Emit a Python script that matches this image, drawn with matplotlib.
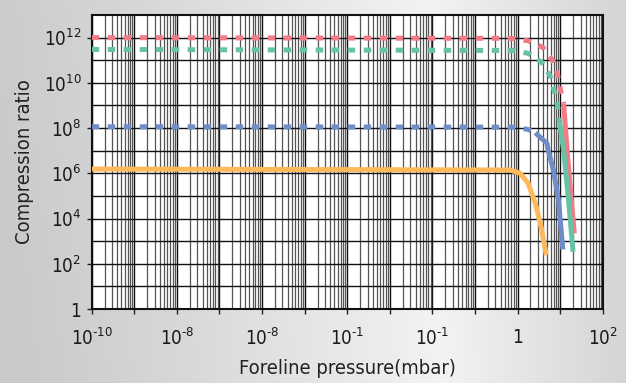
import numpy as np
import matplotlib
matplotlib.use("Agg")
import matplotlib.pyplot as plt
from matplotlib.ticker import FixedLocator, FixedFormatter, LogLocator, NullFormatter
from matplotlib.colors import LinearSegmentedColormap

plt.rcParams['font.family'] = ['DejaVu Sans']
plt.rcParams['font.stretch'] = 'condensed'
plt.rcParams['mathtext.fontset'] = 'custom'
plt.rcParams['mathtext.rm'] = 'DejaVu Sans:stretch=condensed'
plt.rcParams['mathtext.it'] = 'DejaVu Sans:stretch=condensed'

# data (pressure in mbar, compression ratio)
# each gas: dashed part (extrapolated) + solid part
red_dash_p = [1e-10, 0.78, 1.78, 3.9, 6.6, 8.7, 10.2, 12.0]
red_dash_cr = [1e12, 9.3e11, 7.2e11, 3.7e11, 1.0e11, 2.2e10, 4.8e9, 1.23e9]
red_solid_p = [12.0, 14.5, 17.5, 21.4]
red_solid_cr = [1.23e9, 1.07e7, 1.5e5, 2.2e3]

green_dash_p = [1e-10, 0.78, 1.78, 3.7, 5.8, 7.2, 8.7, 9.5]
green_dash_cr = [3.0e11, 2.7e11, 2.0e11, 8.1e10, 2.0e10, 4.5e9, 9.3e8, 2.2e8]
green_solid_p = [9.5, 12.0, 15.5, 20.0]
green_solid_cr = [2.2e8, 1.07e7, 8.0e4, 3.4e2]

blue_dash_p = [1e-10, 0.78, 1.78, 2.6]
blue_dash_cr = [1.15e8, 1.1e8, 8.7e7, 6.2e7]
blue_solid_p = [2.6, 4.9, 5.2, 6.9, 9.1, 11.5]
blue_solid_cr = [6.2e7, 2.1e7, 1.07e7, 1.4e6, 6.5e4, 4.3e2]

orange_p = [1e-10, 0.66, 1.15, 1.78, 2.6, 3.55, 4.7]
orange_cr = [1.55e6, 1.4e6, 1.0e6, 3.5e5, 4.7e4, 4.3e3, 2.4e2]

x_ticks = 10.0 ** np.arange(-10, 3)
x_tick_labels = ['$10^{\u201010}$', '', '$10^{\u20108}$', '', '$10^{\u20108}$', '', '$10^{\u20101}$', '',
                 '$10^{\u20101}$', '', '1', '', '$10^{2}$']
y_ticks = 10.0 ** np.arange(0, 14, 2)
y_tick_labels = ['1', '$10^{2}$', '$10^{4}$', '$10^{6}$', '$10^{8}$', '$10^{10}$', '$10^{12}$']

red = '#EF7C87'
green = '#68C2A4'
blue = '#6F8DC9'
orange = '#FDB95A'

fig = plt.figure(figsize=(6.26, 3.83), dpi=100)

# grey gradient background, a bit darker towards the bottom left
bg = fig.add_axes([0, 0, 1, 1], zorder=-10)
cmap = LinearSegmentedColormap.from_list('bg', [(0, '#c9cacc'), (0.25, '#d6d7d8'),
                                                (0.7, '#f3f3f3'), (1, '#d4d5d6')])
gx = np.linspace(0, 1, 300)
gy = np.linspace(0, 1, 100)
G = gx[None, :] + 0.08 * (gy[:, None] - 0.5) * (1 - gx[None, :])
bg.imshow(G, cmap=cmap, aspect='auto', extent=[0, 1, 0, 1], vmin=0, vmax=1, origin='lower')
bg.axis('off')

ax = fig.add_axes([0.1465, 0.1932, 0.8165, 0.7676])
ax.set_facecolor('white')
ax.set_xscale('log')
ax.set_yscale('log')
ax.set_xlim(1e-10, 1e2)
ax.set_ylim(1, 1e13)

lw = 3.6
dash = (1.5, 1.7)
ax.plot(red_dash_p, red_dash_cr, color=red, lw=lw, dashes=dash, dash_capstyle='butt', zorder=5)
ax.plot(red_solid_p, red_solid_cr, color=red, lw=lw, solid_capstyle='butt', zorder=5)
ax.plot(green_dash_p, green_dash_cr, color=green, lw=lw, dashes=dash, dash_capstyle='butt', zorder=5)
ax.plot(green_solid_p, green_solid_cr, color=green, lw=lw, solid_capstyle='butt', zorder=5)
ax.plot(blue_dash_p, blue_dash_cr, color=blue, lw=lw, dashes=dash, dash_capstyle='butt', zorder=5)
ax.plot(blue_solid_p, blue_solid_cr, color=blue, lw=lw, solid_capstyle='butt', zorder=5)
ax.plot(orange_p, orange_cr, color=orange, lw=lw, solid_capstyle='butt', zorder=5)

ax.xaxis.set_major_locator(FixedLocator(x_ticks))
ax.xaxis.set_major_formatter(FixedFormatter(x_tick_labels))
ax.xaxis.set_minor_locator(LogLocator(base=10, subs=np.arange(2, 10), numticks=50))
ax.xaxis.set_minor_formatter(NullFormatter())
ax.yaxis.set_major_locator(FixedLocator(y_ticks))
ax.yaxis.set_major_formatter(FixedFormatter(y_tick_labels))
ax.yaxis.set_minor_locator(FixedLocator(10.0 ** np.arange(1, 13, 2)))
ax.yaxis.set_minor_formatter(NullFormatter())

ax.grid(True, which='major', color='#111111', lw=1.0, zorder=1)
ax.grid(True, which='minor', axis='y', color='#111111', lw=1.0, zorder=1)
ax.grid(True, which='minor', axis='x', color='#555555', lw=0.9, zorder=1)
ax.set_axisbelow(True)

ax.tick_params(which='major', direction='out', length=3.5, width=1, color='#222222',
               labelsize=13.5, pad=4, labelcolor='#1a1a1a')
ax.tick_params(axis='x', which='major', pad=10)
ax.tick_params(which='minor', length=0)
for s in ax.spines.values():
    s.set_linewidth(1.5)
    s.set_color('#111111')

ax.set_xlabel('Foreline pressure(mbar)', fontsize=14.5, color='#222222', labelpad=7)
ax.set_ylabel('Compression ratio', fontsize=14.5, color='#222222', labelpad=7)

fig.savefig('out.png', dpi=100)
